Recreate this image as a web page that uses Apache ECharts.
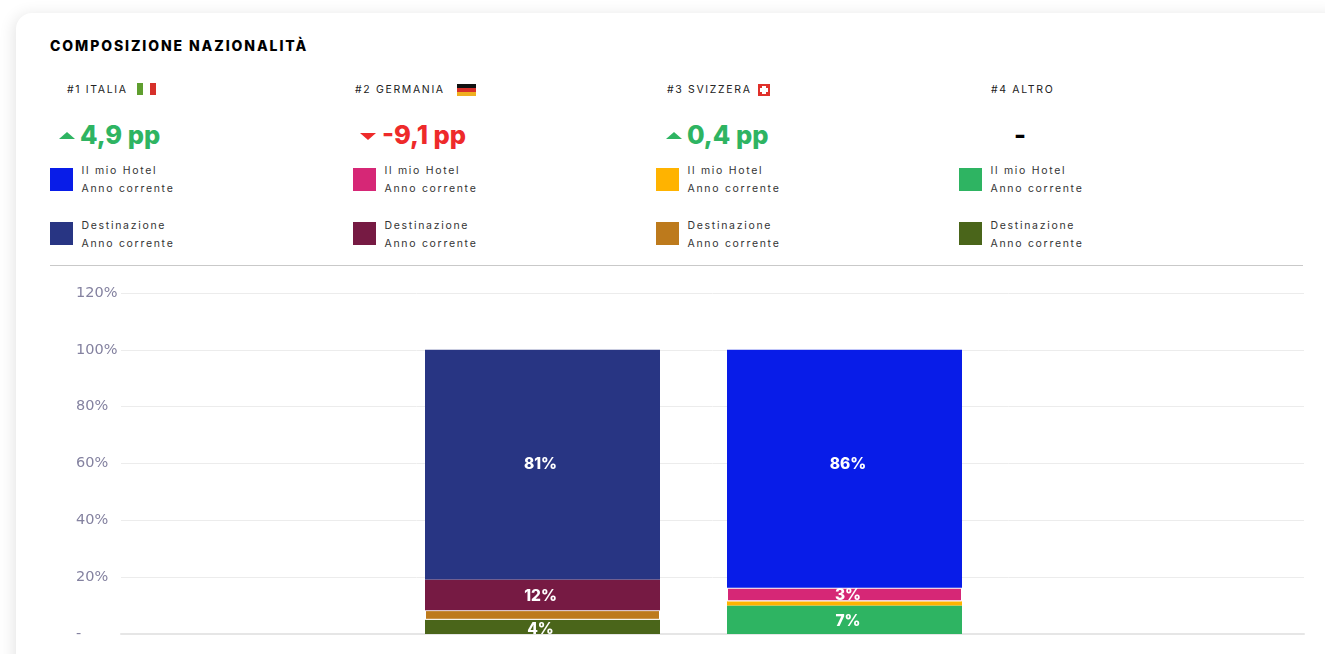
<!DOCTYPE html>
<html><head><meta charset="utf-8">
<script src="https://cdn.jsdelivr.net/npm/echarts@6/dist/echarts.min.js"></script>
<style>
html,body{margin:0;padding:0;width:1325px;height:654px;overflow:hidden;background:#fff;font-family:Inter,sans-serif}
#card{position:absolute;left:16px;top:13px;width:1330px;height:700px;background:#fff;border-radius:16px;box-shadow:-2px 2px 16px rgba(0,0,0,.11)}
#chart{position:absolute;left:0;top:0;width:1325px;height:654px}
.abs{position:absolute;white-space:nowrap}
#title{left:50px;top:38px;font:800 14px/16px Inter,sans-serif;letter-spacing:1.9px;color:#000}
.rank{font:400 10.5px/14px Inter,sans-serif;letter-spacing:1.65px;color:#222}
.delta{font:800 25.5px/30px Inter,sans-serif}
.lg{font:400 10.5px/18px Inter,sans-serif;letter-spacing:1.7px;color:#333}
.sw{width:23px;height:23px}
#rule{left:50px;top:265px;width:1253px;height:1px;background:#c9c9c9}
</style></head><body>
<div id="card"></div>
<div id="header"></div>
<div id="chart"></div>
<script>
var titleText = 'COMPOSIZIONE NAZIONALITÀ';
var nations = ['#1 ITALIA', '#2 GERMANIA', '#3 SVIZZERA', '#4 ALTRO'];
var deltas = ['4,9 pp', '-9,1 pp', '0,4 pp', '-'];
var hotelColors = ['#081ce8', '#d62776', '#ffb300', '#2eb462'];
var destColors = ['#283583', '#761a43', '#bd7a1c', '#4a651a'];
var yTicks = [0, 20, 40, 60, 80, 100, 120];
var barCategories = ['', 'Destinazione', 'Il mio Hotel', ''];
// heights as drawn, bottom-to-top segments: altro, svizzera, germania, italia
var altroHeights = [null, 5, 10, null];
var svizzeraHeights = [null, 3.4, 1.5, null];
var germaniaHeights = [null, 10.8, 4.8, null];
var italiaHeights = [null, 80.8, 83.7, null];
// printed labels (they differ from the drawn heights in the reference)
var altroLabels = ['', '4%', '7%', ''];
var svizzeraLabels = ['', '', '', ''];
var germaniaLabels = ['', '12%', '3%', ''];
var italiaLabels = ['', '81%', '86%', ''];

var hdr = document.getElementById('header');
function add(cls, css, html){var d=document.createElement('div');d.className='abs '+cls;d.style.cssText=css;d.innerHTML=html||'';hdr.appendChild(d);return d;}
add('', '', '').id='rule';
add('', '', titleText).id='title';
var rankX=[67,355,667,991], swX=[50,353,656,959];
nations.forEach(function(n,i){
  add('rank','left:'+rankX[i]+'px;top:83px',n);
  add('sw','left:'+swX[i]+'px;top:168px;background:'+hotelColors[i]);
  add('sw','left:'+swX[i]+'px;top:222px;background:'+destColors[i]);
  add('lg','left:'+(swX[i]+31.5)+'px;top:161.5px','Il mio Hotel<br>Anno corrente');
  add('lg','left:'+(swX[i]+31.5)+'px;top:216.5px','Destinazione<br>Anno corrente');
});
add('','left:137px;top:83px;width:19px;height:12px;display:flex','<span style="flex:1;background:#5f9e2f"></span><span style="flex:1;background:#fff"></span><span style="flex:1;background:#d6302a"></span>');
add('','left:457px;top:84px;width:19px;height:12px;display:flex;flex-direction:column','<span style="flex:1;background:#111"></span><span style="flex:1;background:#d8302a"></span><span style="flex:1;background:#f0b020"></span>');
add('','left:758px;top:84px;width:12px;height:12px;background:#e0302a','<span style="position:absolute;left:4px;top:2px;width:4px;height:8px;background:#fff"></span><span style="position:absolute;left:2px;top:4px;width:8px;height:4px;background:#fff"></span>');
function tri(x,y,up,col){add('','left:'+x+'px;top:'+y+'px;width:0;height:0;border-left:8px solid transparent;border-right:8px solid transparent;'+(up?'border-bottom':'border-top')+':7px solid '+col);}
tri(59,132,true,'#2eb462');tri(360,133,false,'#ee2a2a');tri(666,132,true,'#2eb462');
add('delta','left:80px;top:120px;color:#2eb462',deltas[0]);
add('delta','left:382px;top:120px;color:#ee2a2a',deltas[1]);
add('delta','left:687px;top:120px;color:#2eb462',deltas[2]);
add('delta','left:1014px;top:120px;color:#000',deltas[3]);

function mkSeries(heights, labels, c0, c1, border, dy){
  return {type:'bar',stack:'tot',barWidth:235,xAxisIndex:1,yAxisIndex:1,
    data:heights.map(function(h,i){return {value:h,
      label:{show:!!labels[i],position:'inside',color:'#fff',fontFamily:'Inter',fontWeight:800,fontSize:15.5,
        offset:[i===1?-2:3.5,dy[i]],formatter:labels[i]},
      itemStyle:{color:i===1?c0:c1,borderColor:'#fff',borderWidth:border&&border[i]?1:0}};})};
}
var chart = echarts.init(document.getElementById('chart'),null,{renderer:'canvas'});
chart.setOption({
  animation:false,
  grid:[
    {left:121,width:1183,top:293,height:341},
    {left:89.5,width:1208,top:293,height:341}
  ],
  xAxis:[
    {type:'value',gridIndex:0,min:0,max:1,axisLine:{show:true,onZero:false,lineStyle:{color:'#e6e6e6',width:2}},axisTick:{show:false},axisLabel:{show:false},splitLine:{show:false}},
    {type:'category',gridIndex:1,data:barCategories,axisLine:{show:false},axisTick:{show:false},axisLabel:{show:false},splitLine:{show:false}}
  ],
  yAxis:[
    {type:'value',gridIndex:0,min:0,max:120,interval:20,
      axisLine:{show:false},axisTick:{show:false},
      splitLine:{lineStyle:{color:'#ececec',width:1}},
      axisLabel:{margin:45,align:'left',padding:[3,0,0,0],color:'#8482a0',fontFamily:'DejaVu Sans',fontSize:14.5,
        formatter:function(v){return v===0?'-':v+'%';}}},
    {type:'value',gridIndex:1,min:0,max:120,interval:20,axisLine:{show:false},axisTick:{show:false},axisLabel:{show:false},splitLine:{show:false}}
  ],
  series:[
    mkSeries(altroHeights,altroLabels,destColors[3],hotelColors[3],null,[0,2,2,0]),
    mkSeries(svizzeraHeights,svizzeraLabels,destColors[2],hotelColors[2],[0,1,0,0],[0,0,0,0]),
    mkSeries(germaniaHeights,germaniaLabels,destColors[1],hotelColors[1],[0,0,1,0],[0,2,1,0]),
    mkSeries(italiaHeights,italiaLabels,destColors[0],hotelColors[0],null,[0,0,-4,0])
  ]
});
</script></body></html>
